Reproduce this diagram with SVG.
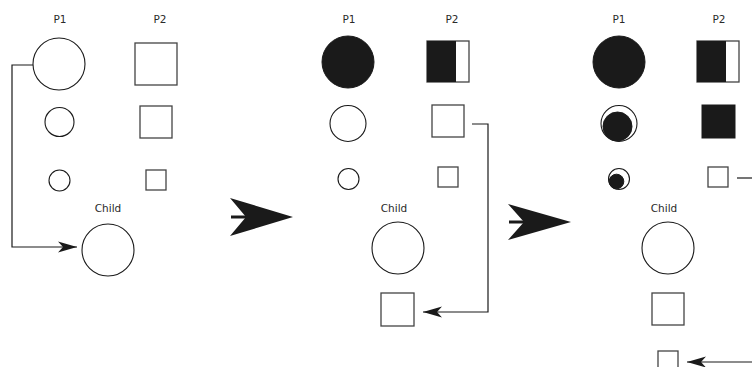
<svg xmlns="http://www.w3.org/2000/svg" width="752" height="367" viewBox="0 0 752 367">
<style>
.lbl{font-family:"DejaVu Sans",sans-serif;font-size:10.5px;fill:#2a2a2a;text-anchor:middle}
.o{fill:#fff;stroke:#1a1a1a;stroke-width:1.1}
.sq{fill:#fff;stroke:#444;stroke-width:1.3}
.f{fill:#1a1a1a;stroke:#1a1a1a;stroke-width:1}
.con{fill:none;stroke:#1a1a1a;stroke-width:1.2}
.big{fill:#1a1a1a}
</style>
<defs>
<marker id="ah" markerUnits="userSpaceOnUse" markerWidth="24" markerHeight="14" viewBox="-20 -7 22 14" refX="0" refY="0" orient="auto">
<path d="M0,0 L-19,-5.5 L-14,0 L-19,5.5 Z" fill="#1a1a1a"/>
</marker>
</defs>
<rect width="752" height="367" fill="#fff"/>

<g id="panel1">
<text class="lbl" x="60" y="23">P1</text>
<text class="lbl" x="160" y="23">P2</text>
<g id="p1-big"><circle class="o" cx="59" cy="64" r="26"/></g>
<g id="p2-big"><rect class="sq" x="135" y="43" width="42" height="42"/></g>
<g id="p1-med"><circle class="o" cx="59.5" cy="122" r="14.5"/></g>
<g id="p2-med"><rect class="sq" x="140" y="106" width="32" height="32"/></g>
<g id="p1-small"><circle class="o" cx="59.5" cy="180.5" r="10.5"/></g>
<g id="p2-small"><rect class="sq" x="146" y="170" width="20" height="20"/></g>
<text class="lbl" x="108" y="212">Child</text>
<g id="child1-circle"><circle class="o" cx="108" cy="250" r="26"/></g>
</g>

<g id="panel2">
<text class="lbl" x="349" y="23">P1</text>
<text class="lbl" x="452" y="23">P2</text>
<g id="p1-big-2"><circle class="f" cx="348" cy="62" r="26"/></g>
<g id="p2-big-2"><rect class="sq" x="427" y="41" width="42" height="41"/><rect class="big" x="427" y="41" width="29" height="41"/></g>
<g id="p1-med-2"><circle class="o" cx="348" cy="123.5" r="18"/></g>
<g id="p2-med-2"><rect class="sq" x="432" y="105" width="32" height="32"/></g>
<g id="p1-small-2"><circle class="o" cx="348.5" cy="179" r="10.5"/></g>
<g id="p2-small-2"><rect class="sq" x="438" y="167" width="20" height="20"/></g>
<text class="lbl" x="394" y="212">Child</text>
<g id="child2-circle"><circle class="o" cx="398" cy="248" r="26"/></g>
<g id="child2-square"><rect class="sq" x="381" y="293" width="33" height="33"/></g>
</g>

<g id="panel3">
<text class="lbl" x="619" y="23">P1</text>
<text class="lbl" x="719" y="23">P2</text>
<g id="p1-big-3"><circle class="f" cx="619" cy="62" r="26"/></g>
<g id="p2-big-3"><rect class="sq" x="697" y="41" width="42" height="41"/><rect class="big" x="697" y="41" width="29" height="41"/></g>
<g id="p1-med-3"><circle class="o" cx="619" cy="123.5" r="18"/><circle class="f" cx="617.5" cy="126.5" r="14.5"/></g>
<g id="p2-med-3"><rect class="f" x="702" y="105" width="33" height="33"/></g>
<g id="p1-small-3"><circle class="o" cx="619" cy="179" r="10.5"/><circle class="f" cx="616.5" cy="181.5" r="7.3"/></g>
<g id="p2-small-3"><rect class="sq" x="708" y="167" width="20" height="20"/></g>
<text class="lbl" x="664" y="212">Child</text>
<g id="child3-circle"><circle class="o" cx="668" cy="248" r="26"/></g>
<g id="child3-square"><rect class="sq" x="652" y="293" width="32" height="32"/></g>
<g id="child3-small-square"><rect class="sq" x="658" y="351" width="20" height="20"/></g>
</g>

<g id="connectors">
<path class="con" d="M33,65 H12 V247 H77" marker-end="url(#ah)"/>
<path class="con" d="M472,124 H488 V312 H423" marker-end="url(#ah)"/>
<path class="con" d="M737,178 H752"/>
<path class="con" d="M752,362 H687" marker-end="url(#ah)"/>
<g id="step-arrow-1">
<line x1="231" y1="217" x2="248" y2="217" stroke="#1a1a1a" stroke-width="3"/>
<polygon class="big" points="230,198 293,217 230,236 246,217"/>
</g>
<g id="step-arrow-2">
<line x1="509" y1="222" x2="526" y2="222" stroke="#1a1a1a" stroke-width="3"/>
<polygon class="big" points="508,204 571,222 508,240 524,222"/>
</g>
</g>
</svg>
